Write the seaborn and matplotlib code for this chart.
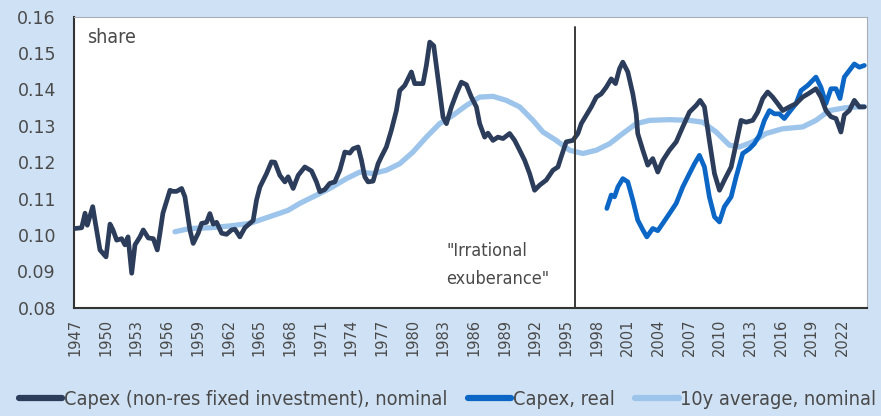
import matplotlib
matplotlib.use("Agg")
import matplotlib.pyplot as plt
import seaborn as sns
import pandas as pd

# Capex (non-res fixed investment), nominal - share
nom_year = [1947.0, 1947.65, 1947.98, 1948.2, 1948.73, 1948.95, 1949.44, 1950.03, 1950.42, 1950.71,
            1951.07, 1951.56, 1951.88, 1952.18, 1952.54, 1952.86, 1953.35, 1953.67, 1954.16, 1954.65,
            1955.04, 1955.3, 1955.59, 1956.28, 1956.57, 1956.93, 1957.42, 1957.74, 1958.23, 1958.55,
            1959.04, 1959.37, 1959.86, 1960.18, 1960.51, 1960.84, 1961.33, 1961.81, 1962.3, 1962.63,
            1963.11, 1963.6, 1964.41, 1964.74, 1965.07, 1965.72, 1966.2, 1966.53, 1967.02, 1967.51,
            1967.83, 1968.32, 1968.81, 1969.46, 1970.12, 1970.6, 1970.93, 1971.41, 1971.9, 1972.39,
            1972.88, 1973.37, 1973.86, 1974.18, 1974.67, 1975.0, 1975.32, 1975.64, 1976.13, 1976.62,
            1976.94, 1977.43, 1977.92, 1978.41, 1978.74, 1979.23, 1979.55, 1979.88, 1980.2, 1980.69,
            1981.01, 1981.34, 1981.67, 1982.06, 1982.48, 1982.97, 1983.3, 1983.79, 1984.27, 1984.76,
            1985.25, 1985.74, 1986.23, 1986.55, 1987.04, 1987.36, 1987.85, 1988.34, 1988.83, 1989.48,
            1989.97, 1990.46, 1990.95, 1991.43, 1991.92, 1992.41, 1993.06, 1993.71, 1994.2, 1994.52,
            1995.01, 1995.66, 1996.15, 1996.48, 1996.97, 1997.46, 1997.95, 1998.44, 1998.92, 1999.41,
            1999.83, 2000.22, 2000.54, 2001.03, 2001.52, 2001.85, 2002.0, 2002.5, 2002.98, 2003.47,
            2003.96, 2004.45, 2005.1, 2005.76, 2006.4, 2007.06, 2007.71, 2008.1, 2008.52, 2009.0,
            2009.5, 2009.99, 2010.47, 2011.13, 2011.62, 2012.1, 2012.59, 2013.24, 2013.73, 2014.22,
            2014.7, 2015.19, 2015.68, 2016.17, 2016.82, 2017.47, 2018.12, 2018.77, 2019.42, 2019.91,
            2020.4, 2020.89, 2021.38, 2021.86, 2022.19, 2022.68, 2023.17, 2023.66, 2024.15]
nom_val = [0.1018, 0.1020, 0.1060, 0.1027, 0.1078, 0.1040, 0.0959, 0.0940, 0.1030, 0.1014,
           0.0986, 0.0990, 0.0973, 0.0995, 0.0895, 0.0973, 0.0995, 0.1014, 0.0992, 0.0990,
           0.0959, 0.1005, 0.1060, 0.1123, 0.1120, 0.1120, 0.1128, 0.1105, 0.1014, 0.0977,
           0.1005, 0.1032, 0.1035, 0.1059, 0.1030, 0.1035, 0.1005, 0.1002, 0.1014, 0.1016,
           0.0995, 0.1020, 0.1040, 0.1096, 0.1132, 0.1169, 0.1201, 0.1200, 0.1164, 0.1146,
           0.1160, 0.1128, 0.1164, 0.1187, 0.1176, 0.1146, 0.1119, 0.1125, 0.1142, 0.1146,
           0.1178, 0.1228, 0.1225, 0.1237, 0.1242, 0.1205, 0.1160, 0.1146, 0.1148, 0.1196,
           0.1215, 0.1242, 0.1288, 0.1342, 0.1397, 0.1411, 0.1429, 0.1448, 0.1416, 0.1416,
           0.1416, 0.1466, 0.1530, 0.1520, 0.1429, 0.1324, 0.1306, 0.1352, 0.1388, 0.1420,
           0.1413, 0.1379, 0.1352, 0.1306, 0.1269, 0.1280, 0.1260, 0.1269, 0.1265, 0.1279,
           0.1260, 0.1233, 0.1205, 0.1169, 0.1123, 0.1137, 0.1151, 0.1178, 0.1187, 0.1215,
           0.1256, 0.1260, 0.1279, 0.1306, 0.1329, 0.1352, 0.1379, 0.1388, 0.1406, 0.1429,
           0.1416, 0.1457, 0.1475, 0.1448, 0.1388, 0.1333, 0.1279, 0.1233, 0.1192, 0.1210,
           0.1173, 0.1205, 0.1233, 0.1256, 0.1297, 0.1338, 0.1356, 0.1370, 0.1352, 0.1260,
           0.1169, 0.1123, 0.1151, 0.1187, 0.1251, 0.1315, 0.1310, 0.1315, 0.1338, 0.1375,
           0.1393, 0.1379, 0.1361, 0.1342, 0.1352, 0.1361, 0.1379, 0.1390, 0.1402, 0.1379,
           0.1342, 0.1325, 0.1320, 0.1283, 0.1330, 0.1342, 0.1370, 0.1352, 0.1352]

# Capex, real
real_year = [1998.98, 1999.41, 1999.73, 2000.06, 2000.54, 2001.03, 2001.52, 2002.0, 2002.5, 2002.89,
             2003.47, 2003.96, 2004.45, 2005.1, 2005.76, 2006.4, 2007.06, 2007.55, 2008.03, 2008.52,
             2009.0, 2009.5, 2009.99, 2010.47, 2011.13, 2011.62, 2012.26, 2012.92, 2013.4, 2013.89,
             2014.38, 2014.87, 2015.36, 2015.84, 2016.33, 2016.82, 2017.47, 2017.96, 2018.61, 2019.1,
             2019.42, 2019.91, 2020.4, 2020.89, 2021.38, 2021.77, 2022.19, 2022.68, 2023.17, 2023.66,
             2024.15]
real_val = [0.1073, 0.1110, 0.1105, 0.1132, 0.1155, 0.1146, 0.1096, 0.1041, 0.1014, 0.0995,
            0.1018, 0.1012, 0.1032, 0.1059, 0.1087, 0.1132, 0.1169, 0.1196, 0.1219, 0.1187,
            0.1105, 0.1050, 0.1036, 0.1078, 0.1105, 0.1160, 0.1224, 0.1237, 0.1251, 0.1274,
            0.1315, 0.1342, 0.1333, 0.1333, 0.1320, 0.1338, 0.1361, 0.1397, 0.1411, 0.1425,
            0.1434, 0.1406, 0.1361, 0.1402, 0.1402, 0.1375, 0.1434, 0.1452, 0.1470, 0.1461,
            0.1466]

# 10y average, nominal
avg_year = [1956.77, 1958.23, 1960.18, 1962.14, 1964.09, 1965.55, 1967.02, 1967.83, 1968.97, 1970.27,
            1971.9, 1973.53, 1974.83, 1976.13, 1977.43, 1978.74, 1980.03, 1981.34, 1982.64, 1983.94,
            1985.25, 1986.55, 1987.85, 1989.15, 1990.46, 1991.76, 1992.74, 1994.03, 1995.34, 1996.64,
            1997.95, 1999.25, 2000.54, 2001.85, 2003.15, 2005.1, 2007.06, 2008.36, 2009.66, 2010.96,
            2011.94, 2013.24, 2014.54, 2016.17, 2018.12, 2019.42, 2020.73, 2022.36, 2024.15]
avg_val = [0.1009, 0.1018, 0.1020, 0.1025, 0.1032, 0.1046, 0.1060, 0.1068, 0.1087, 0.1105,
           0.1128, 0.1155, 0.1173, 0.1169, 0.1178, 0.1196, 0.1228, 0.1269, 0.1306, 0.1329,
           0.1356, 0.1379, 0.1381, 0.1370, 0.1352, 0.1315, 0.1283, 0.1260, 0.1233, 0.1224,
           0.1233, 0.1251, 0.1279, 0.1306, 0.1315, 0.1317, 0.1315, 0.1310, 0.1283, 0.1247,
           0.1242, 0.1256, 0.1279, 0.1292, 0.1297, 0.1315, 0.1342, 0.1350, 0.1353]

tick_years = list(range(1947, 2023, 3))
y_ticks = [0.08, 0.09, 0.10, 0.11, 0.12, 0.13, 0.14, 0.15, 0.16]

labels = ["Capex (non-res fixed investment), nominal", "Capex, real", "10y average, nominal"]
colors = ["#2c3d5b", "#0b66c6", "#9dc4ea"]

BG = "#cfe1f4"
TXT = "#4a4a4a"
NARROW = dict(family="DejaVu Sans", stretch="condensed")


def main():
    sns.set_style("white")
    plt.rcParams["font.family"] = ["DejaVu Sans"]

    fig = plt.figure(figsize=(8.81, 4.16), dpi=100, facecolor=BG)
    ax = fig.add_axes([0.084, 0.26, 0.900, 0.700])
    ax.set_facecolor("white")

    df_nom = pd.DataFrame({"year": nom_year, "v": nom_val})
    df_real = pd.DataFrame({"year": real_year, "v": real_val})
    df_avg = pd.DataFrame({"year": avg_year, "v": avg_val})

    sns.lineplot(data=df_avg, x="year", y="v", ax=ax, color=colors[2], lw=3.8, label=labels[2], zorder=2)
    sns.lineplot(data=df_real, x="year", y="v", ax=ax, color=colors[1], lw=3.4, label=labels[1], zorder=3)
    sns.lineplot(data=df_nom, x="year", y="v", ax=ax, color=colors[0], lw=3.4, label=labels[0], zorder=4)

    # Greenspan speech
    ax.axvline(1995.85, ymin=0, ymax=0.965, color="#3a3a3a", lw=1.4, zorder=5)
    ax.text(1983.3, 0.0918, '"Irrational\nexuberance"', fontsize=13, color=TXT,
            va="center", ha="left", linespacing=1.75, **NARROW)
    ax.text(0.017, 0.93, "share", transform=ax.transAxes, fontsize=14, color=TXT,
            va="center", **NARROW)

    ax.set_xlim(1946.9, 2024.4)
    ax.set_ylim(0.08, 0.16)
    ax.set_xticks(tick_years)
    ax.set_xticklabels([str(y) for y in tick_years], rotation=90, fontsize=10.5, color=TXT)
    ax.set_yticks(y_ticks)
    ax.set_yticklabels([f"{v:.2f}" for v in y_ticks], fontsize=12.5, color=TXT)
    ax.set_xlabel("")
    ax.set_ylabel("")
    ax.tick_params(axis="x", direction="out", length=5, width=1.5, color="#333333", pad=3)
    ax.tick_params(axis="y", length=0, pad=13)

    for side in ["top", "right"]:
        ax.spines[side].set_color("#a8aeb8")
        ax.spines[side].set_linewidth(0.8)
    for side in ["left", "bottom"]:
        ax.spines[side].set_color("#333333")
        ax.spines[side].set_linewidth(1.5)

    handles, labs = ax.get_legend_handles_labels()
    order = [labs.index(l) for l in labels]
    ax.get_legend().remove()
    leg = fig.legend([handles[i] for i in order], [labs[i] for i in order],
                     loc="center", bbox_to_anchor=(0.508, 0.04), ncol=3, frameon=False,
                     handlelength=2.2, handletextpad=0.1, columnspacing=1.0,
                     prop={"family": "DejaVu Sans", "stretch": "condensed", "size": 14.3})
    for t in leg.get_texts():
        t.set_color(TXT)
    for h in leg.legend_handles:
        h.set_linewidth(4.5)
        h.set_solid_capstyle("round")

    fig.savefig("out.png", dpi=100, facecolor=BG)


if __name__ == "__main__":
    main()
